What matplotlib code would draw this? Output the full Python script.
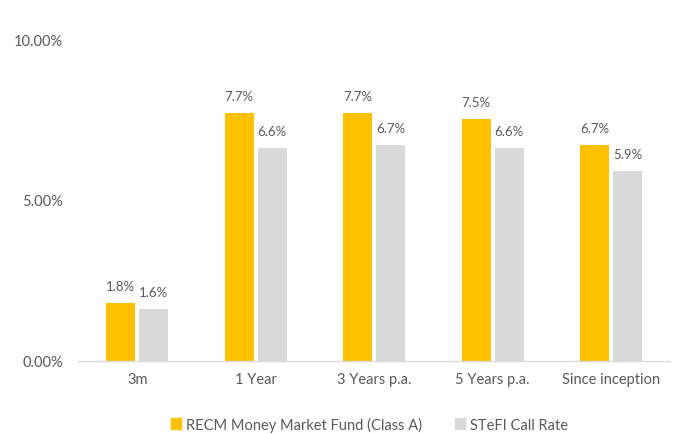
import matplotlib
matplotlib.use("Agg")
import matplotlib.pyplot as plt
import numpy as np
from matplotlib.patches import Patch

categories = ["3m", "1 Year", "3 Years p.a.", "5 Years p.a.", "Since inception"]
recm = [1.8, 7.7, 7.7, 7.5, 6.7]
stefi = [1.6, 6.6, 6.7, 6.6, 5.9]
series_names = ["RECM Money Market Fund (Class A)", "STeFI Call Rate"]
yticks = [0, 5, 10]
ytick_labels = ["0.00%", "5.00%", "10.00%"]

GOLD = "#FFC000"
GREY = "#D9D9D9"
TXT = "#595959"
plt.rcParams['font.family'] = ['Lato', 'DejaVu Sans']

fig = plt.figure(figsize=(6.73, 4.35), dpi=100)
ax = fig.add_axes([0.116, 0.168, 0.880, 0.740])

x = np.arange(len(categories))
w = 0.245
gap = 0.035
b1 = ax.bar(x - (w + gap) / 2, recm, w, color=GOLD)
b2 = ax.bar(x + (w + gap) / 2, stefi, w, color=GREY)

for bars, vals in ((b1, recm), (b2, stefi)):
    for r, v in zip(bars, vals):
        ax.annotate(f"{v:.1f}%", (r.get_x() + r.get_width() / 2, r.get_height()),
                    xytext=(0, 8), textcoords="offset points", ha="center", va="bottom",
                    fontsize=9.5, color=TXT)

ax.set_xlim(-0.5, len(categories) - 0.5)
ax.set_ylim(0, 10)
ax.set_yticks(yticks)
ax.set_yticklabels(ytick_labels)
ax.set_xticks(x)
ax.set_xticklabels(categories)
ax.tick_params(axis="both", length=0, colors=TXT, labelsize=10.5)
ax.tick_params(axis="y", pad=11)
ax.tick_params(axis="x", pad=8)
for s in ["top", "right", "left"]:
    ax.spines[s].set_visible(False)
ax.spines["bottom"].set_color(GREY)
ax.spines["bottom"].set_linewidth(1)

handles = [Patch(color=GOLD), Patch(color=GREY)]
leg = fig.legend(handles, series_names, loc="center", bbox_to_anchor=(0.549, 0.023),
                 ncol=2, frameon=False, fontsize=10.5, handlelength=0.7, handleheight=0.7,
                 handletextpad=0.3, columnspacing=2.3)
for t in leg.get_texts():
    t.set_color(TXT)

fig.savefig("out.png", dpi=100)
